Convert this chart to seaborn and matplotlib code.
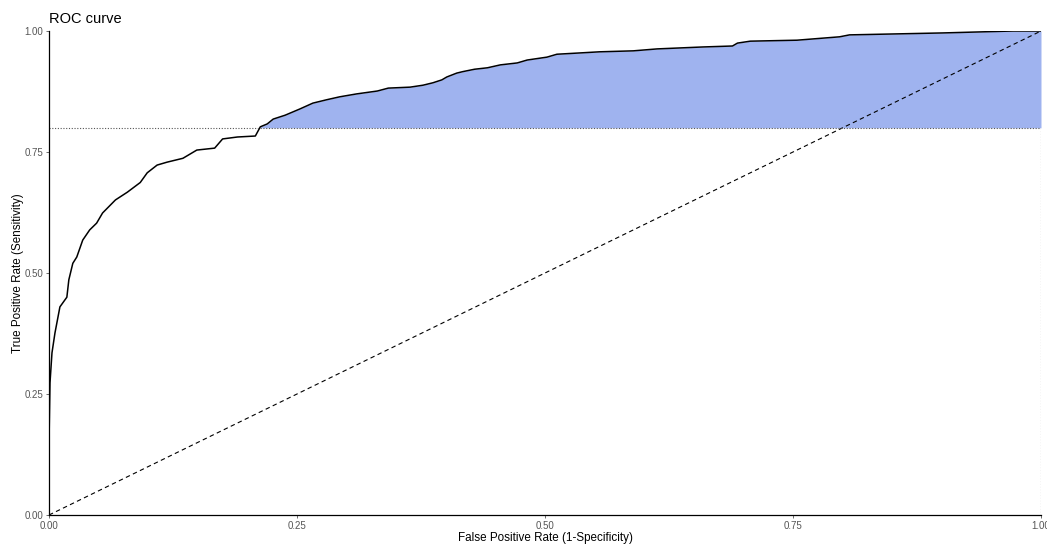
import numpy as np
import pandas as pd
import matplotlib.pyplot as plt
import seaborn as sns

# ROC curve points
fpr = [0.0, 0.0, 0.001, 0.003, 0.006, 0.011, 0.018, 0.020, 0.024, 0.028, 0.034,
       0.041, 0.048, 0.054, 0.067, 0.079, 0.092, 0.099, 0.109, 0.119, 0.135,
       0.149, 0.167, 0.175, 0.190, 0.208, 0.213, 0.220, 0.226, 0.238, 0.253,
       0.266, 0.280, 0.293, 0.310, 0.331, 0.342, 0.364, 0.377, 0.387, 0.396,
       0.401, 0.411, 0.417, 0.429, 0.442, 0.455, 0.472, 0.482, 0.502, 0.512,
       0.538, 0.555, 0.589, 0.613, 0.659, 0.689, 0.694, 0.707, 0.754, 0.797,
       0.807, 0.901, 0.972, 1.0]
tpr = [0.0, 0.149, 0.273, 0.335, 0.376, 0.430, 0.450, 0.486, 0.520, 0.533, 0.568,
       0.589, 0.603, 0.624, 0.651, 0.667, 0.687, 0.707, 0.723, 0.729, 0.737,
       0.754, 0.758, 0.777, 0.781, 0.783, 0.802, 0.808, 0.818, 0.826, 0.839,
       0.851, 0.858, 0.864, 0.870, 0.876, 0.882, 0.884, 0.888, 0.893, 0.899,
       0.905, 0.913, 0.916, 0.921, 0.924, 0.930, 0.934, 0.940, 0.946, 0.952,
       0.955, 0.957, 0.959, 0.963, 0.967, 0.969, 0.975, 0.979, 0.981, 0.988,
       0.992, 0.996, 1.0, 1.0]
sens_cut = 0.8
ticks = [0.0, 0.25, 0.5, 0.75, 1.0]
tick_labels = ["0.00", "0.25", "0.50", "0.75", "1.00"]

df = pd.DataFrame({"fpr": fpr, "tpr": tpr})

sns.set_style("white")
plt.rcParams['font.family'] = ['Liberation Sans', 'DejaVu Sans']

fig = plt.figure(figsize=(10.47, 5.46), dpi=100)
ax = fig.add_axes([49 / 1047, 31 / 546, 992 / 1047, 484 / 546])

# diagonal reference line
sns.lineplot(x=[0, 1], y=[0, 1], ax=ax, color="black", lw=0.8,
             linestyle=(0, (4, 3)), estimator=None)
# ROC curve
sns.lineplot(data=df, x="fpr", y="tpr", ax=ax, color="black", lw=1.1,
             estimator=None, sort=False)

# partial AUC region above sensitivity cut-off
ax.plot([0, 1], [sens_cut, sens_cut], color="#555555", lw=0.8, linestyle=(0, (1, 1.5)))
ax.plot([1, 1], [0, sens_cut], color="#555555", lw=0.8, linestyle=(0, (1, 1.5)))
x = np.array(fpr)
y = np.array(tpr)
ax.fill_between(x, sens_cut, y, where=y >= sens_cut, interpolate=True,
                color="royalblue", alpha=0.5, lw=0)

ax.set_xlim(0, 1)
ax.set_ylim(0, 1)
ax.set_xticks(ticks)
ax.set_xticklabels(tick_labels)
ax.set_yticks(ticks)
ax.set_yticklabels(tick_labels)
ax.tick_params(axis="both", labelsize=7, colors="#555555", length=2, width=0.6,
               pad=2, direction="out", bottom=True, left=True)
for s in ["top", "right"]:
    ax.spines[s].set_visible(False)
for s in ["left", "bottom"]:
    ax.spines[s].set_color("black")
    ax.spines[s].set_linewidth(0.9)

ax.set_xlabel("False Positive Rate (1-Specificity)", fontsize=8.4, color="black", labelpad=1)
ax.set_ylabel("True Positive Rate (Sensitivity)", fontsize=8.4, color="black", labelpad=0.5)
ax.set_title("ROC curve", fontsize=10.5, loc="left", pad=6, color="black")

plt.savefig("out.png", dpi=100)
